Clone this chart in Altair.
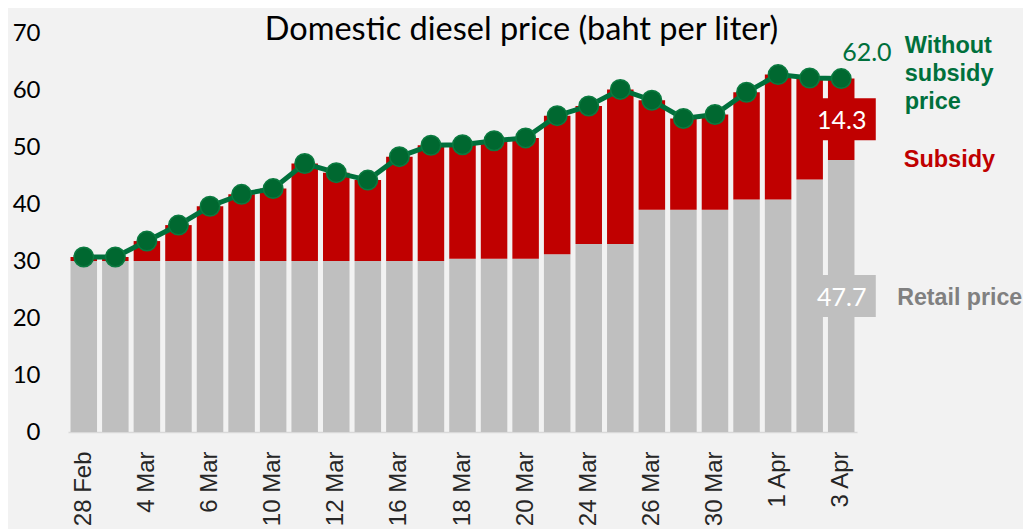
import altair as alt
import pandas as pd

# ---- data ----
dates = ["28 Feb", "2 Mar", "4 Mar", "5 Mar", "6 Mar", "9 Mar", "10 Mar", "11 Mar",
         "12 Mar", "13 Mar", "16 Mar", "17 Mar", "18 Mar", "19 Mar", "20 Mar",
         "23 Mar", "24 Mar", "25 Mar", "26 Mar", "27 Mar", "30 Mar", "31 Mar",
         "1 Apr", "2 Apr", "3 Apr"]
shown_labels = ["28 Feb", "4 Mar", "6 Mar", "10 Mar", "12 Mar", "16 Mar", "18 Mar",
                "20 Mar", "24 Mar", "26 Mar", "30 Mar", "1 Apr", "3 Apr"]
retail_price = [30.0, 30.0, 30.0, 30.0, 30.0, 30.0, 30.0, 30.0, 30.0, 30.0, 30.0, 30.0,
                30.4, 30.4, 30.4, 31.2, 33.0, 33.0, 39.0, 39.0, 39.0, 40.8, 40.8, 44.3, 47.7]
without_subsidy = [30.7, 30.7, 33.5, 36.3, 39.6, 41.7, 42.7, 47.1, 45.5, 44.2, 48.3, 50.3,
                   50.4, 51.1, 51.6, 55.5, 57.2, 60.1, 58.2, 55.0, 55.7, 59.6, 62.7, 62.1, 62.0]
y_ticks = [0, 10, 20, 30, 40, 50, 60, 70]

GREEN = "#00703C"
GREEN_DARK = "#006830"
RED = "#C00000"
GRAY = "#BFBFBF"
GRAY_TEXT = "#808080"

# ---- tables ----
rows = []
for d, r, t in zip(dates, retail_price, without_subsidy):
    rows.append({"date": d, "series": "Retail price", "value": r, "order": 0})
    rows.append({"date": d, "series": "Subsidy", "value": round(t - r, 1), "order": 1})
bars_df = pd.DataFrame(rows)
line_df = pd.DataFrame({"date": dates, "total": without_subsidy})

last_r = retail_price[-1]
last_t = without_subsidy[-1]
last_s = round(last_t - last_r, 1)
ann_df = pd.DataFrame([{
    "date": dates[-1], "total": last_t, "retail": last_r, "subsidy": last_s,
    "retail_mid": last_r / 2, "subsidy_mid": last_r + last_s / 2,
}])

x_enc = alt.X("date:N", sort=dates,
              scale=alt.Scale(paddingInner=0.16, paddingOuter=0.08),
              axis=alt.Axis(values=shown_labels, labelAngle=-90, labelAlign="right",
                            labelBaseline="middle", ticks=False, tickSize=0,
                            labelPadding=19, labelOverlap=False,
                            labelFont="Liberation Sans", labelFontSize=24,
                            labelColor="#262626", domainColor="#D9D9D9",
                            domainWidth=1.5, grid=False, title=None))
y_scale = alt.Scale(domain=[0, 70], nice=False)

bars = alt.Chart(bars_df).mark_bar().encode(
    x=x_enc,
    y=alt.Y("value:Q", stack="zero", scale=y_scale,
            axis=alt.Axis(values=y_ticks, ticks=False, tickSize=0, domain=False,
                          grid=False, labelFont="Lato", labelFontSize=24,
                          labelColor="black", labelPadding=28, title=None)),
    color=alt.Color("series:N",
                    scale=alt.Scale(domain=["Retail price", "Subsidy"], range=[GRAY, RED]),
                    legend=None),
    order=alt.Order("order:Q"),
)

line = alt.Chart(line_df).mark_line(color=GREEN, strokeWidth=5).encode(
    x=alt.X("date:N", sort=dates), y=alt.Y("total:Q", scale=y_scale))
dots = alt.Chart(line_df).mark_circle(size=380, color=GREEN_DARK, opacity=1,
                                       stroke="#0B7A40", strokeWidth=1.5).encode(
    x=alt.X("date:N", sort=dates), y=alt.Y("total:Q", scale=y_scale))

box_shape = "M-1.55,-1L1.55,-1L1.55,1L-1.55,1Z"
base = alt.Chart(ann_df)
red_box = base.mark_point(shape=box_shape, size=1764, filled=True, color=RED,
                          opacity=1, strokeWidth=0, xOffset=2).encode(
    x=alt.X("date:N", sort=dates), y=alt.Y("subsidy_mid:Q", scale=y_scale))
gray_box = base.mark_point(shape=box_shape, size=1764, filled=True, color=GRAY,
                           opacity=1, strokeWidth=0, xOffset=2).encode(
    x=alt.X("date:N", sort=dates), y=alt.Y("retail_mid:Q", scale=y_scale))

sub_lbl = base.mark_text(font="Lato", fontSize=25, color="white", align="center",
                         baseline="alphabetic", dx=0.5, dy=10).encode(
    x=alt.X("date:N", sort=dates), y=alt.Y("subsidy_mid:Q", scale=y_scale),
    text=alt.Text("subsidy:Q", format=".1f"))
ret_lbl = base.mark_text(font="Lato", fontSize=25, color="white", align="center",
                         baseline="alphabetic", dx=0.5, dy=10).encode(
    x=alt.X("date:N", sort=dates), y=alt.Y("retail_mid:Q", scale=y_scale),
    text=alt.Text("retail:Q", format=".1f"))
tot_lbl = base.mark_text(font="Lato", fontSize=25, color=GREEN, align="left",
                         baseline="alphabetic", dx=1, dy=-18).encode(
    x=alt.X("date:N", sort=dates), y=alt.Y("total:Q", scale=y_scale),
    text=alt.Text("total:Q", format=".1f"))

leg_without = base.mark_text(text=["Without", "subsidy", "price"], lineHeight=28,
                             font="Liberation Sans", fontWeight="bold", fontSize=23.5,
                             color=GREEN, align="left", baseline="alphabetic",
                             dx=63.5, dy=-26).encode(
    x=alt.X("date:N", sort=dates), y=alt.Y("total:Q", scale=y_scale))
leg_sub = base.mark_text(text="Subsidy", font="Liberation Sans", fontWeight="bold",
                         fontSize=23.5, color=RED, align="left", baseline="alphabetic",
                         dx=62.5, dy=48).encode(
    x=alt.X("date:N", sort=dates), y=alt.Y("subsidy_mid:Q", scale=y_scale))
leg_ret = base.mark_text(text="Retail price", font="Liberation Sans", fontWeight="bold",
                         fontSize=23.2, color=GRAY_TEXT, align="left",
                         baseline="alphabetic", dx=56, dy=8.5).encode(
    x=alt.X("date:N", sort=dates), y=alt.Y("retail_mid:Q", scale=y_scale))

chart = alt.layer(
    bars, line, dots, red_box, gray_box, sub_lbl, ret_lbl, tot_lbl,
    leg_without, leg_sub, leg_ret
).properties(
    width=789, height=399,
    title=alt.TitleParams("Domestic diesel price (baht per liter)", font="Lato",
                          fontSize=32.5, fontWeight="normal", color="black",
                          anchor="middle", frame="group", dx=59, offset=-51,
                          baseline="alphabetic"),
    autosize=alt.AutoSizeParams(type="none"),
    padding={"left": 60, "top": 25, "right": 166, "bottom": 97},
    background="#F2F2F2",
).configure_view(stroke=None)

chart.save("out.html", embed_options={"renderer": "svg", "actions": False})
